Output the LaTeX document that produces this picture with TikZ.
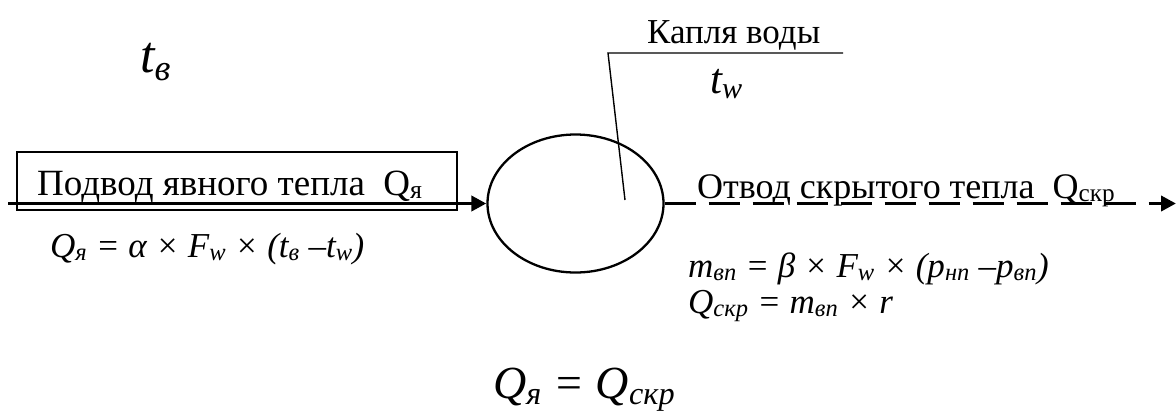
\documentclass[tikz,border=0pt]{standalone}
\usepackage{fontspec}
\setmainfont{Liberation Serif}
\usetikzlibrary{arrows.meta,shapes.geometric}
\newcommand{\sbs}[1]{\textsubscript{#1}}
\newcommand{\fs}[1]{\fontsize{#1bp}{#1bp}\selectfont}
\begin{document}
\begin{tikzpicture}[x=1bp,y=-1bp,
  txt/.style={inner sep=0pt, anchor=base west},
  flowarrow/.style={line width=3.8bp, -{Triangle[length=15bp,width=15bp]}},
  flowdashed/.style={line width=3.8bp, dash pattern=on 31bp off 13bp, -{Triangle[length=15bp,width=15bp]}},
  callout/.style={line width=1.4bp}]
\useasboundingbox (0,0) rectangle (1176,412);
% box
\node[draw, line width=1.6bp, minimum width=440bp, minimum height=58bp, inner sep=0pt] (box) at (237,181) {};
\node[txt] (boxtext) at (37,195) {\fs{37}Подвод явного тепла\ \ Q\sbs{я}};
% drop
\node[draw, ellipse, line width=2.3bp, minimum width=176bp, minimum height=138bp, inner sep=0pt] (drop) at (575.5,203.5) {};
% arrows
\coordinate (inStart) at (8,203.5);
\coordinate (outEnd) at (1176,203.5);
\draw[flowarrow] (inStart) -- (drop.west);
\draw[flowdashed] (drop.east) -- (outEnd);
% callout
\coordinate (c1) at (625,200);
\coordinate (c2) at (608,53);
\coordinate (c3) at (843,53);
\draw[callout] (c1) -- (c2) -- (c3);
\node[txt] (kaplya) at (647,43) {\fs{35}Капля воды};
\node[txt] (tw) at (710,93) {\fs{43}\itshape t\sbs{w}};
\node[txt] (tb) at (140,72) {\fs{52}\itshape t\sbs{в}};
\node[txt] (outtext) at (697,198) {\fs{36}Отвод скрытого тепла\ \ Q\sbs{скр}};
% formulas
\node[txt] (f1) at (50,257) {\fs{35}\itshape Q\sbs{я} = α × F\sbs{w} × (t\sbs{в} –t\sbs{w})};
\node[txt] (f2) at (688,277) {\fs{35}\itshape m\sbs{вп} = β × F\sbs{w} × (p\sbs{нп} –p\sbs{вп})};
\node[txt] (f3) at (688,313) {\fs{35}\itshape Q\sbs{скр} = m\sbs{вп} ×\ r};
\node[txt] (f4) at (493,398) {\fs{46}\itshape Q\sbs{я} = Q\sbs{скр}};
\end{tikzpicture}
\end{document}
